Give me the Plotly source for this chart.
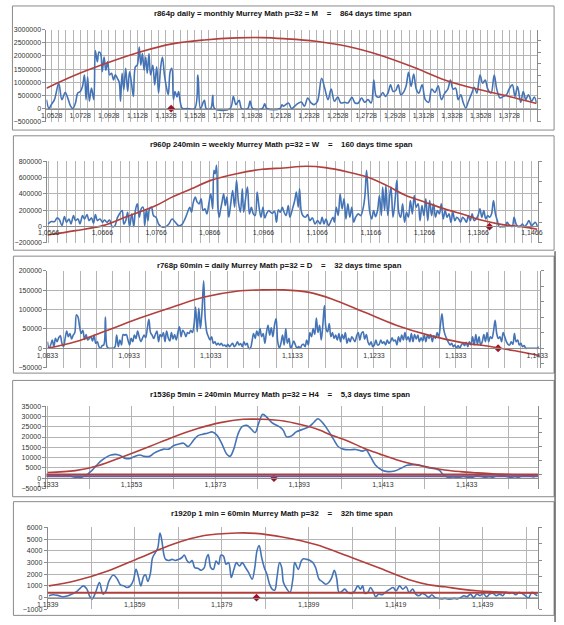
import plotly.graph_objects as go

# ---------------- data ----------------
titles = [
    "r864p daily = monthly Murrey Math p=32 = M",
    "r960p 240min = weekly Murrey Math p=32 = W",
    "r768p 60min = daily Murrey Math p=32 = D",
    "r1536p 5min = 240min Murrey Math p=32 = H4",
    "r1920p 1 min = 60min Murrey Math p=32",
]
spans = ["864 days time span", "160 days time span", "32 days time span",
         "5,3 days time span", "32h time span"]

# panel 1 : r864p daily
p1_x = [1.0492, 1.0510, 1.0526, 1.0548, 1.0578, 1.0600, 1.0623, 1.0645, 1.0661, 1.0677,
        1.0695, 1.0711, 1.0729, 1.0744, 1.0758, 1.0769, 1.0780, 1.0792, 1.0807, 1.0823,
        1.0834, 1.0848, 1.0859, 1.0871, 1.0882, 1.0895, 1.0907, 1.0920, 1.0934, 1.0947,
        1.0961, 1.0974, 1.0988, 1.1001, 1.1010, 1.1021, 1.1033, 1.1046, 1.1060, 1.1073,
        1.1087, 1.1100, 1.1114, 1.1127, 1.1141, 1.1152, 1.1163, 1.1175, 1.1186, 1.1197,
        1.1209, 1.1220, 1.1236, 1.1249, 1.1263, 1.1276, 1.1290, 1.1303, 1.1317, 1.1330,
        1.1344, 1.1357, 1.1369, 1.1380, 1.1391, 1.1405, 1.1416, 1.1429, 1.1443, 1.1472,
        1.1528, 1.1551, 1.1569, 1.1596, 1.1610, 1.1641, 1.1655, 1.1668, 1.1776, 1.1799,
        1.1817, 1.1839, 1.1857, 1.1900, 1.1916, 1.1934, 1.2002, 1.2018, 1.2033, 1.2126,
        1.2139, 1.2150,
        1.2184, 1.2206, 1.2240, 1.2274, 1.2296, 1.2319, 1.2342, 1.2364, 1.2387, 1.2416,
        1.2438, 1.2461, 1.2483, 1.2506, 1.2529, 1.2551, 1.2578, 1.2601, 1.2628, 1.2650,
        1.2673, 1.2695, 1.2718, 1.2740, 1.2763, 1.2781, 1.2799, 1.2821, 1.2844, 1.2862,
        1.2880, 1.2898, 1.2916, 1.2934, 1.2952, 1.2970, 1.2988, 1.3006, 1.3024, 1.3042,
        1.3060, 1.3078, 1.3096, 1.3119, 1.3141, 1.3164, 1.3186, 1.3209, 1.3231, 1.3254,
        1.3277, 1.3299, 1.3317, 1.3335, 1.3353, 1.3371, 1.3389, 1.3407, 1.3425, 1.3443,
        1.3466, 1.3484, 1.3502, 1.3524, 1.3542, 1.3560, 1.3578, 1.3601, 1.3623, 1.3641,
        1.3664, 1.3687, 1.3709, 1.3727, 1.3750, 1.3768, 1.3786, 1.3808, 1.3826, 1.3844,
        1.3862, 1.3885, 1.3903, 1.3919]
p1_y = [340000, 0, 150000, 340000, 960000, 340000, 610000, 340000, 90000, 0,
        210000, 590000, 650000, 840000, 1270000, 340000, 1210000, 280000, 780000, 340000,
        2210000, 1780000, 2150000, 2090000, 1400000, 1960000, 1460000, 1780000, 1280000, 1340000,
        1090000, 1280000, 1150000, 1000000, 280000, 1340000, 710000, 1530000, 650000, 1400000,
        960000, 460000, 1590000, 1650000, 2340000, 1650000, 2090000, 1460000, 1960000, 1340000,
        2090000, 1280000, 1650000, 900000, 1590000, 590000, 1530000, 1960000, 1280000, 840000,
        530000, 1400000, 1530000, 340000, 650000, 440000, 650000, 210000, 0, 0,
        0, 1270000, 0, 310000, 0, 0, 500000, 0, 0, 460000,
        150000, 310000, 0, 0, 280000, 0, 0, 180000, 0, 0,
        140000, 90000,
        212500, 0, 150000, 250000, 87500, 400000, 212500, 150000, 275000, 1150000,
        775000, 337500, 737500, 275000, 437500, 212500, 237500, 212500, 425000, 212500,
        212500, 400000, 237500, 337500, 212500, 1087500, 462500, 437500, 612500, 462500,
        587500, 900000, 650000, 687500, 900000, 525000, 612500, 837500, 1375000, 837500,
        1312500, 737500, 587500, 900000, 337500, 237500, 737500, 612500, 862500, 337500,
        587500, 737500, 1087500, 737500, 775000, 337500, 525000, 212500, 25000, 275000,
        587500, 812500, 587500, 1275000, 962500, 1087500, 737500, 587500, 1275000, 737500,
        400000, 462500, 525000, 737500, 900000, 462500, 837500, 237500, 650000, 337500,
        525000, 275000, 437500, 212500]
p1_rx = [1.0492, 1.0695, 1.0920, 1.1146, 1.1371, 1.1596, 1.1821, 1.2002, 1.2150,
         1.2375, 1.2601, 1.2826, 1.3051, 1.3277, 1.3502, 1.3727, 1.3919]
p1_ry = [775000, 1275000, 1740000, 2150000, 2460000, 2610000, 2690000, 2700000, 2660000,
         2560000, 2360000, 2030000, 1590000, 1090000, 740000, 460000, 190000]

# panel 2 : r960p 240min
p2_x = [1.05648, 1.05708, 1.05768, 1.05816, 1.05858, 1.05906, 1.05954, 1.05990, 1.06038, 1.06074,
        1.06122, 1.06158, 1.06206, 1.06242, 1.06290, 1.06326, 1.06374, 1.06410, 1.06458, 1.06494,
        1.06530, 1.06566, 1.06614, 1.06662, 1.06698, 1.06746, 1.06794, 1.06842, 1.06890, 1.06938,
        1.06986, 1.07028, 1.07058, 1.07094, 1.07130, 1.07166, 1.07208, 1.07244, 1.07274, 1.07310,
        1.07346, 1.07382, 1.07418, 1.07448, 1.07478, 1.07508, 1.07538, 1.07574, 1.07610, 1.07658,
        1.07706, 1.07754, 1.07838, 1.07898, 1.07958, 1.08018, 1.08078, 1.08138, 1.08198, 1.08246,
        1.08288, 1.08318, 1.08354, 1.08390, 1.08426, 1.08462, 1.08498, 1.08534, 1.08570, 1.08606,
        1.08642, 1.08678, 1.08714, 1.08738, 1.08762, 1.08786, 1.08810, 1.08834, 1.08858, 1.08888,
        1.08918, 1.08948, 1.08978, 1.09014, 1.09050, 1.09086, 1.09122, 1.09158, 1.09194, 1.09230,
        1.09266, 1.09290, 1.09326, 1.09362, 1.09398, 1.09434, 1.09470, 1.09506, 1.09542, 1.09578,
        1.09614, 1.09650, 1.09686, 1.09722, 1.09758, 1.09794, 1.09830, 1.09866, 1.09902, 1.09938,
        1.09974, 1.10010,
        1.10032, 1.10080, 1.10122, 1.10152, 1.10200, 1.10242, 1.10272, 1.10308, 1.10332, 1.10362,
        1.10392, 1.10440, 1.10482, 1.10524, 1.10572, 1.10620, 1.10668, 1.10716, 1.10752, 1.10788,
        1.10824, 1.10872, 1.10920, 1.10956, 1.10980, 1.11016, 1.11052, 1.11088, 1.11124, 1.11160,
        1.11196, 1.11232, 1.11268, 1.11304, 1.11340, 1.11376, 1.11424, 1.11472, 1.11520, 1.11550,
        1.11580, 1.11610, 1.11640, 1.11676, 1.11712, 1.11748, 1.11784, 1.11820, 1.11856, 1.11880,
        1.11916, 1.11940, 1.11976, 1.12012, 1.12036, 1.12072, 1.12108, 1.12144, 1.12180, 1.12216,
        1.12252, 1.12288, 1.12324, 1.12360, 1.12396, 1.12432, 1.12468, 1.12504, 1.12540, 1.12576,
        1.12612, 1.12648, 1.12684, 1.12720, 1.12756, 1.12792, 1.12828, 1.12864, 1.12900, 1.12936,
        1.12972, 1.13008, 1.13044, 1.13080, 1.13116, 1.13152, 1.13188, 1.13224, 1.13260, 1.13296,
        1.13332, 1.13368, 1.13404, 1.13440, 1.13476, 1.13512, 1.13548, 1.13584, 1.13620, 1.13656,
        1.13692, 1.13728, 1.13764, 1.13800, 1.13836, 1.13872, 1.13908, 1.13944, 1.13980, 1.14016,
        1.14052, 1.14112, 1.14160, 1.14196, 1.14232, 1.14292, 1.14328, 1.14364, 1.14400, 1.14448,
        1.14484, 1.14520, 1.14568, 1.14604, 1.14652, 1.14688, 1.14724, 1.14760]
p2_y = [32800, 61500, 61500, 106600, 86100, 12300, 123000, 53300, 94300, 32800,
        135300, 73800, 94300, 32800, 135300, 94300, 147600, 73800, 106600, 41000,
        147600, 73800, 94300, 53300, 82000, 53300, 82000, 0, 8200, 106600,
        164000, 196800, 32800, 73800, 176300, 0, 155800, 0, 196800, 278800,
        114800, 217300, 237800, 12300, 205000, 73800, 217300, 237800, 135300, 114800,
        32800, 0, 0, 32800, 94300, 53300, 12300, 24600, 94300, 176300,
        237800, 176300, 299300, 360800, 299300, 278800, 340300, 196800, 217300, 155800,
        278800, 401800, 217300, 688800, 647800, 750300, 237800, 114800, 196800, 299300,
        401800, 258300, 360800, 114800, 278800, 442800, 237800, 565800, 299300, 176300,
        463300, 176300, 340300, 483800, 155800, 237800, 155800, 135300, 422300, 237800,
        114800, 237800, 106600, 164000, 196800, 176300, 164000, 188600, 53300, 205000,
        176300, 237800,
        196800, 135300, 258300, 114800, 217300, 319800, 422300, 237800, 463300, 196800,
        135300, 114800, 147600, 73800, 106600, 32800, 73800, 32800, 114800, 32800,
        94300, 12300, 73800, 114800, 53300, 237800, 135300, 401800, 217300, 340300,
        94300, 278800, 114800, 237800, 53300, 114800, 155800, 135300, 237800, 381300,
        688800, 401800, 176300, 94300, 196800, 123000, 196800, 381300, 135300, 483800,
        196800, 504300, 135300, 381300, 483800, 114800, 299300, 565800, 176300, 114800,
        278800, 53300, 176300, 114800, 319800, 155800, 381300, 237800, 278800, 73800,
        258300, 135300, 340300, 73800, 319800, 135300, 278800, 114800, 196800, 155800,
        278800, 94300, 196800, 114800, 155800, 53300, 176300, 73800, 114800, 94300,
        53300, 114800, 94300, 53300, 135300, 73800, 155800, 73800, 94300, 135300,
        217300, 114800, 196800, 94300, 135300, 114800, 155800, 319800, 155800, 73800,
        0, 0, 0, 53300, 24600, 0, 114800, 32800, 0, 8200,
        32800, 0, 32800, 73800, 12300, 32800, 53300, 8200]
p2_rx = [1.05636, 1.06158, 1.06668, 1.07118, 1.07658, 1.07958, 1.08318, 1.08678, 1.09158,
         1.09638, 1.10032, 1.10452, 1.10812, 1.11232, 1.11592, 1.11952, 1.12312, 1.12672,
         1.13032, 1.13392, 1.13752, 1.14112, 1.14472, 1.14760]
p2_ry = [-102500, -49200, 12300, 123000, 258300, 360800, 463300, 565800, 647800,
         701100, 717500, 738000, 721600, 668300, 606800, 504300, 381300, 299300,
         217300, 147600, 73800, 24600, 0, -32800]

# panel 3 : r768p 60min  (price levels are evenly spaced categories)
p3_start = 1.0833
p3_step = 0.00019725
p3_y = [17000, 0, 8500, 21300, 4300, 25500, 17000, 27200, 32300, 12800,
        4300, 25500, 44300, 29800, 38300, 23800, 34000, 40800, 86800, 80800,
        55300, 38300, 46800, 23000, 35700, 21300, 25500, 29800, 18700, 34000,
        12800, 17000, 4300, 0, 6800, 8500, 80800, 4300, 0, 0,
        0, 0, 4300, 34000, 4300, 21300, 8500, 35700, 34000, 35700,
        21300, 8500, 25500, 17000, 34000, 25500, 44300, 29800, 17000, 25500,
        34000, 27200, 51100, 74900, 40800, 34000, 25500, 35700, 44300, 17000,
        35700, 29800, 40800, 17000, 44300, 27200, 18700, 40800, 23800, 35700,
        21300, 40800, 55300, 29800, 46800, 40800, 29800, 40800, 38300, 46800,
        40800, 59600, 106400, 42600, 103800, 51100, 97900, 174500, 76600, 40800,
        29800, 21300, 29800, 12800, 17000, 8500, 12800, 8500, 12800, 6800,
        8500, 4300, 10200, 4300, 8500, 12800, 4300, 8500, 17000, 8500,
        11900, 4300, 17000, 8500, 12800, 0, 0, 17000, 38300, 25500,
        44300, 32300, 51100, 29800, 38300, 12800, 40800, 59600, 34000, 52800,
        29800, 59600, 76600, 17000, 0, 12800, 34000,
        8500, 51100, 12800, 25500, 0, 8500, 18700, 8500, 0, 4300,
        0, 8500, 10200, 4300, 21300, 8500, 40800, 29800, 51100, 35700,
        78300, 40800, 59600, 21300, 59600, 110600, 51100, 42600, 63800, 29800,
        40800, 25500, 34000, 21300, 38300, 17000, 35700, 23800, 40800, 12800,
        25500, 17000, 29800, 23800, 17000, 32300, 40800, 21300, 38300, 42600,
        23800, 35700, 17000, 8500, 17000, 4300, 8500, 21300, 8500, 10200,
        21300, 12800, 17000, 8500, 21300, 12800, 17000, 27200, 18700, 21300,
        8500, 29800, 17000, 34000, 21300, 40800, 21300, 29800, 17000, 38300,
        17000, 35700, 23800, 34000, 17000, 27200, 18700, 34000, 17000, 34000,
        25500, 35700, 17000, 32300, 25500, 40800, 29800, 59600, 89400, 51100,
        34000, 23800, 15300, 8500, 12800, 4300, 8500, 0, 6800, 0,
        8500, 12800, 6800, 15300, 4300, 17000, 8500, 29800, 8500, 35700,
        10200, 29800, 8500, 17000, 35700, 17000, 40800, 17000, 29800, 25500,
        44300, 72300, 38300, 25500, 29800, 17000, 40800, 29800, 17000, 10200,
        8500, 17000, 10200, 38300, 17000, 21300, 8500, 12800, 4300, 6800,
        0, 0, 0, 0, 0, 0, 0, 0, 4300]
p3_x = [p3_start + i * p3_step for i in range(len(p3_y))]
p3_rx = [1.0833, 1.08673, 1.09068, 1.09462, 1.09857, 1.10251, 1.10646, 1.10961, 1.11222,
         1.11537, 1.11813, 1.12208, 1.12602, 1.12997, 1.13391, 1.13786, 1.14102, 1.14358]
p3_ry = [0, 17000, 46800, 78300, 106400, 132400, 147700, 151100, 151100,
         144700, 127700, 93600, 59600, 34000, 15300, 3400, -8500, -18700]

# panel 4 : r1536p 5min
p4_x = [1.13330, 1.13342, 1.13354, 1.13365, 1.13377, 1.13388, 1.13400, 1.13411, 1.13423, 1.13435,
        1.13446, 1.13458, 1.13469, 1.13481, 1.13492, 1.13504, 1.13515, 1.13527, 1.13538, 1.13550,
        1.13561, 1.13573, 1.13584, 1.13596, 1.13607, 1.13619, 1.13630, 1.13642, 1.13654, 1.13665,
        1.13677, 1.13688, 1.13700, 1.13711, 1.13723, 1.13734, 1.13746, 1.13757, 1.13765, 1.13774,
        1.13784, 1.13794, 1.13805, 1.13816, 1.13825, 1.13834, 1.13843, 1.13854, 1.13865, 1.13876,
        1.13886, 1.13893, 1.13900, 1.13912, 1.13923, 1.13939, 1.13954, 1.13966, 1.13975, 1.13989,
        1.14000, 1.14012, 1.14023, 1.14035, 1.14050, 1.14065, 1.14081, 1.14090, 1.14100, 1.14112,
        1.14127, 1.14142, 1.14158, 1.14173, 1.14188, 1.14208, 1.14223, 1.14238, 1.14254, 1.14265,
        1.14273, 1.14284, 1.14304, 1.14323, 1.14338, 1.14354, 1.14369, 1.14384, 1.14400, 1.14415,
        1.14430, 1.14446, 1.14461, 1.14477, 1.14492]
p4_y = [960, 1610, 1280, 960, 1610, 800, 320, 480, 1610, 3690,
        6100, 8510, 10120, 11240, 11560, 10920, 9640, 9640, 10600, 11240,
        10600, 10600, 12210, 13330, 14130, 14130, 15740, 16540, 17020, 15420,
        18150, 20560, 21360, 21840, 22480, 20880, 16540, 11720, 10600, 14130,
        21360, 25050, 25700, 23770, 22160, 26980, 31000, 29390, 26980, 25700,
        24570, 22970, 20080, 20560, 22480, 23770, 25050, 27300, 28910, 26180,
        22970, 18950, 15420, 14130, 13810, 13970, 13170, 13650, 10600, 6420,
        4020, 3210, 3530, 4820, 6260, 6580, 6100, 5140, 4660, 3850,
        1930, 480, 160, 800, 160, 1120, 640, 0, 960, 1280,
        640, 0, 960, 1280, 640]
p4_rx = [1.13330, 1.13396, 1.13450, 1.13511, 1.13573, 1.13627, 1.13688, 1.13742, 1.13796,
         1.13842, 1.13893, 1.13931, 1.13969, 1.14008, 1.14046, 1.14085, 1.14123, 1.14162,
         1.14200, 1.14238, 1.14277, 1.14315, 1.14354, 1.14392, 1.14430, 1.14469, 1.14500]
p4_ry = [2800, 3700, 6100, 10600, 15400, 19800, 24100, 27000, 28600,
         28600, 27800, 26200, 24100, 20900, 18100, 14500, 11700, 9000,
         6900, 5300, 4000, 3200, 2600, 2100, 1800, 1600, 1600]
p4_levels = [1750, 900]

# panel 5 : r1920p 1 min
p5_x = [1.13393, 1.13402, 1.13413, 1.13424, 1.13435, 1.13446, 1.13457, 1.13465, 1.13472, 1.13480,
        1.13487, 1.13492, 1.13500, 1.13509, 1.13517, 1.13524, 1.13531, 1.13541, 1.13550, 1.13557,
        1.13565, 1.13572, 1.13580, 1.13587, 1.13593, 1.13599, 1.13604, 1.13611, 1.13615, 1.13620,
        1.13626, 1.13631, 1.13637, 1.13643, 1.13648, 1.13652, 1.13657, 1.13661, 1.13668, 1.13676,
        1.13683, 1.13691, 1.13698, 1.13704, 1.13710, 1.13716, 1.13722, 1.13728, 1.13735, 1.13743,
        1.13750, 1.13754, 1.13759, 1.13765, 1.13771, 1.13777, 1.13783, 1.13788, 1.13794, 1.13800,
        1.13806, 1.13812, 1.13818, 1.13824, 1.13831, 1.13837, 1.13845, 1.13852, 1.13860, 1.13866,
        1.13871, 1.13876, 1.13882, 1.13888, 1.13894, 1.13900, 1.13906, 1.13912, 1.13917, 1.13923,
        1.13928,
        1.13932, 1.13940, 1.13947, 1.13954, 1.13958, 1.13966, 1.13973, 1.13978, 1.13986, 1.13993,
        1.14000, 1.14006, 1.14014, 1.14021, 1.14029, 1.14036, 1.14043, 1.14049, 1.14054, 1.14060,
        1.14066, 1.14073, 1.14080, 1.14088, 1.14095, 1.14103, 1.14109, 1.14114, 1.14119, 1.14126,
        1.14132, 1.14138, 1.14144, 1.14151, 1.14159, 1.14166, 1.14177, 1.14184, 1.14191, 1.14199,
        1.14206, 1.14214, 1.14221, 1.14229, 1.14236, 1.14243, 1.14251, 1.14258, 1.14266, 1.14273,
        1.14280, 1.14288, 1.14295, 1.14303, 1.14310, 1.14317, 1.14325, 1.14332, 1.14340, 1.14347,
        1.14354, 1.14362, 1.14369, 1.14377, 1.14384, 1.14391, 1.14399, 1.14406, 1.14414, 1.14421,
        1.14429, 1.14436, 1.14443, 1.14451, 1.14458, 1.14466, 1.14473, 1.14480, 1.14488, 1.14495,
        1.14503, 1.14510, 1.14516]
p5_y = [170, 250, 200, 80, 140, 310, 540, 820, 1010, 730,
        80, -110, 450, 1300, 310, 590, 1440, 1940, 1580, 1100,
        1010, 870, 1010, 1490, 2420, 1720, 1010, 1860, 1940, 1380,
        2060, 3410, 3830, 4250, 5520, 4960, 3690, 3270, 3180, 3270,
        3180, 3270, 3410, 3630, 3180, 2990, 3180, 2560, 2510, 2340,
        2560, 3270, 3690, 2560, 2420, 3130, 2850, 3630, 3550, 2850,
        2990, 1720, 2420, 2990, 2700, 2990, 2560, 2140, 1580, 2560,
        3970, 4450, 3410, 2560, 2000, 1150, 730, 650, 1720, 2990,
        2560,
        1300, 730, 450, 1720, 2990, 2420, 3130, 3320, 3270, 3180,
        2990, 2560, 1580, 1380, 1150, 1300, 1720, 2340, 1720, 450,
        540, 730, 450, 370, 540, 1010, 730, 1010, 370, 450,
        870, 540, 80, 310, 250, 450, 730, 870, 590, 1010,
        730, 930, 450, 730, 310, 170, 370, 250, 30, 250,
        30, -60, -110, -60, -110, -110, -60, -110, 30, 170,
        80, 310, 30, 310, 170, 370, 80, 310, 370, 170,
        310, 170, 450, 370, 450, 250, 450, 370, 170, -30,
        450, 310, 170]
p5_rx = [1.13393, 1.13454, 1.13528, 1.13602, 1.13676, 1.13750, 1.13824, 1.13868, 1.13932,
         1.14006, 1.14080, 1.14154, 1.14229, 1.14266, 1.14303, 1.14340, 1.14377, 1.14414,
         1.14451, 1.14516]
p5_ry = [1010, 1440, 2280, 3410, 4540, 5300, 5520, 5490, 5160,
         4540, 3550, 2510, 1440, 1100, 930, 730, 590, 510, 450, 420]
p5_levels = [420]

# current price marker of each panel
mark_x = [1.1364, 1.1387, 1.1385, 1.1387, 1.1387]
mark_y = [0, 0, 0, 0, 0]

# ---------------- layout / styling ----------------
W, H = 564, 625
GRID = "#b4b4b4"
AXC = "#8c8c8c"
BLUE = "#4474b6"
RED = "#b13f3c"
MARK = "#9e1426"
FONT = "Liberation Sans, Arial, sans-serif"

panels = [
    dict(blue=(p1_x, p1_y), red=(p1_rx, p1_ry), levels=[], lvl_col=[],
         ty=10, tx=281, box=(1.5, 562, 2, 127.5), plot=(36.7, 544, 26, 119), zero=105.7,
         xr=[1.04922, 1.39199], yr=[-500000, 3000000], ydt=500000,
         xt0=1.0528, xdt=0.02, xminor=0.005, rt0=-49000, rdt=440000),
    dict(blue=(p2_x, p2_y), red=(p2_rx, p2_ry), levels=[], lvl_col=[],
         ty=141.7, tx=280, box=(2.5, 562, 133.3, 249), plot=(37.7, 545.3, 159, 241.7), zero=224.3,
         xr=[1.05636, 1.14772], yr=[-200000, 800000], ydt=200000,
         xt0=1.0566, xdt=0.01, xminor=0.01 / 6, rt0=-200000, rdt=250000),
    dict(blue=(p3_x, p3_y), red=(p3_rx, p3_ry), levels=[], lvl_col=[],
         ty=264, tx=278, box=(2.5, 562, 255, 373.3), plot=(37.7, 547, 270, 367.7), zero=348.3,
         xr=[1.0833, 1.14358], yr=[-50000, 200000], ydt=50000,
         xt0=1.0833, xdt=0.01, xminor=0.002, rt0=0, rdt=40000),
    dict(blue=(p4_x, p4_y), red=(p4_rx, p4_ry), levels=p4_levels, lvl_col=[RED, "#6f5a96"],
         ty=395, tx=278, box=(1.7, 562, 380.7, 498.3), plot=(36.7, 545.3, 406.7, 490), zero=479.3,
         xr=[1.13327, 1.14500], yr=[-5000, 35000], ydt=5000,
         xt0=1.1333, xdt=0.002, xminor=0.001, rt0=1700, rdt=6800),
    dict(blue=(p5_x, p5_y), red=(p5_rx, p5_ry), levels=p5_levels, lvl_col=[RED],
         ty=515, tx=280, box=(2.5, 562, 503.3, 618.3), plot=(38, 545.3, 529.3, 612.3), zero=600.3,
         xr=[1.1339, 1.14517], yr=[-1000, 6000], ydt=1000,
         xt0=1.1339, xdt=0.002, xminor=0.001, rt0=420, rdt=1390),
]

fig = go.Figure()
layout = dict(width=W, height=H, margin=dict(l=0, r=0, t=0, b=0), autosize=False,
              paper_bgcolor="white", plot_bgcolor="white", showlegend=False,
              separators=",.", font=dict(family=FONT, size=7, color="#333333"))
shapes, annotations = [], []
NB = "\u00a0"

for i, p in enumerate(panels, start=1):
    xa = "x" if i == 1 else f"x{i}"
    ya = "y" if i == 1 else f"y{i}"
    ys = f"y{i + 5}"
    xkey = "xaxis" if i == 1 else f"xaxis{i}"
    ykey = "yaxis" if i == 1 else f"yaxis{i}"
    yskey = f"yaxis{i + 5}"
    l, r, t, b = p["plot"]

    layout[xkey] = dict(domain=[l / W, r / W], range=p["xr"], anchor="free",
                        position=1 - p["zero"] / H, tick0=p["xt0"], dtick=p["xdt"],
                        tickformat=".4f", showgrid=True, gridcolor=GRID, gridwidth=1,
                        minor=dict(tick0=p["xt0"], dtick=p["xminor"], showgrid=True,
                                   gridcolor=GRID, gridwidth=1),
                        showline=True, linecolor=AXC, linewidth=1, ticks="",
                        zeroline=False, tickfont=dict(size=7, color="#333333"))
    layout[ykey] = dict(domain=[1 - b / H, 1 - t / H], range=p["yr"], anchor=xa,
                        tick0=p["yr"][0], dtick=p["ydt"], tickformat="d",
                        showgrid=True, gridcolor=GRID, gridwidth=1, zeroline=False,
                        showline=True, linecolor=AXC, linewidth=1, ticks="outside",
                        ticklen=3, tickcolor=AXC, tickfont=dict(size=7, color="#333333"))
    layout[yskey] = dict(overlaying=ya, anchor=xa, side="right", range=p["yr"],
                         tick0=p["rt0"], dtick=p["rdt"], showticklabels=False,
                         showgrid=False, zeroline=False, showline=True, linecolor=AXC,
                         linewidth=1, ticks="outside", ticklen=3, tickcolor=AXC)

    bx, by = p["blue"]
    fig.add_trace(go.Scatter(x=bx, y=by, mode="lines", xaxis=xa, yaxis=ya,
                             line=dict(color=BLUE, width=1.6, shape="spline", smoothing=1),
                             hoverinfo="skip"))
    for lv, col in zip(p["levels"], p["lvl_col"]):
        shapes.append(dict(type="line", xref=f"{xa} domain", yref=ya, x0=0, x1=1,
                           y0=lv, y1=lv, line=dict(color=col, width=2), layer="above"))
    fig.add_trace(go.Scatter(x=[mark_x[i - 1]], y=[mark_y[i - 1]], mode="markers",
                             xaxis=xa, yaxis=ya, hoverinfo="skip",
                             marker=dict(symbol="diamond", size=6, color=MARK)))
    rx, ry = p["red"]
    fig.add_trace(go.Scatter(x=rx, y=ry, mode="lines", xaxis=xa, yaxis=ys,
                             line=dict(color=RED, width=1.6, shape="spline", smoothing=1),
                             hoverinfo="skip"))

    x0, x1, y0, y1 = p["box"]
    shapes.append(dict(type="rect", xref="paper", yref="paper", x0=x0 / W, x1=x1 / W,
                       y0=1 - y1 / H, y1=1 - y0 / H, line=dict(color="#8a8a8a", width=1),
                       layer="below"))
    sep = NB * 4 + "=" + NB * 4
    annotations.append(dict(xref="paper", yref="paper", x=p["tx"] / W, y=1 - p["ty"] / H,
                            text="<b>" + titles[i - 1] + sep + spans[i - 1] + "</b>",
                            showarrow=False, xanchor="center", yanchor="middle",
                            font=dict(family=FONT, size=7.8, color="#111111")))

shapes.append(dict(type="line", xref="paper", yref="paper", x0=563 / W, x1=563 / W,
                   y0=0, y1=1 - 250 / H, line=dict(color="#222222", width=1)))
layout["shapes"] = shapes
layout["annotations"] = annotations
fig.update_layout(**layout)

fig.write_html("out.html", config={"displayModeBar": False})
